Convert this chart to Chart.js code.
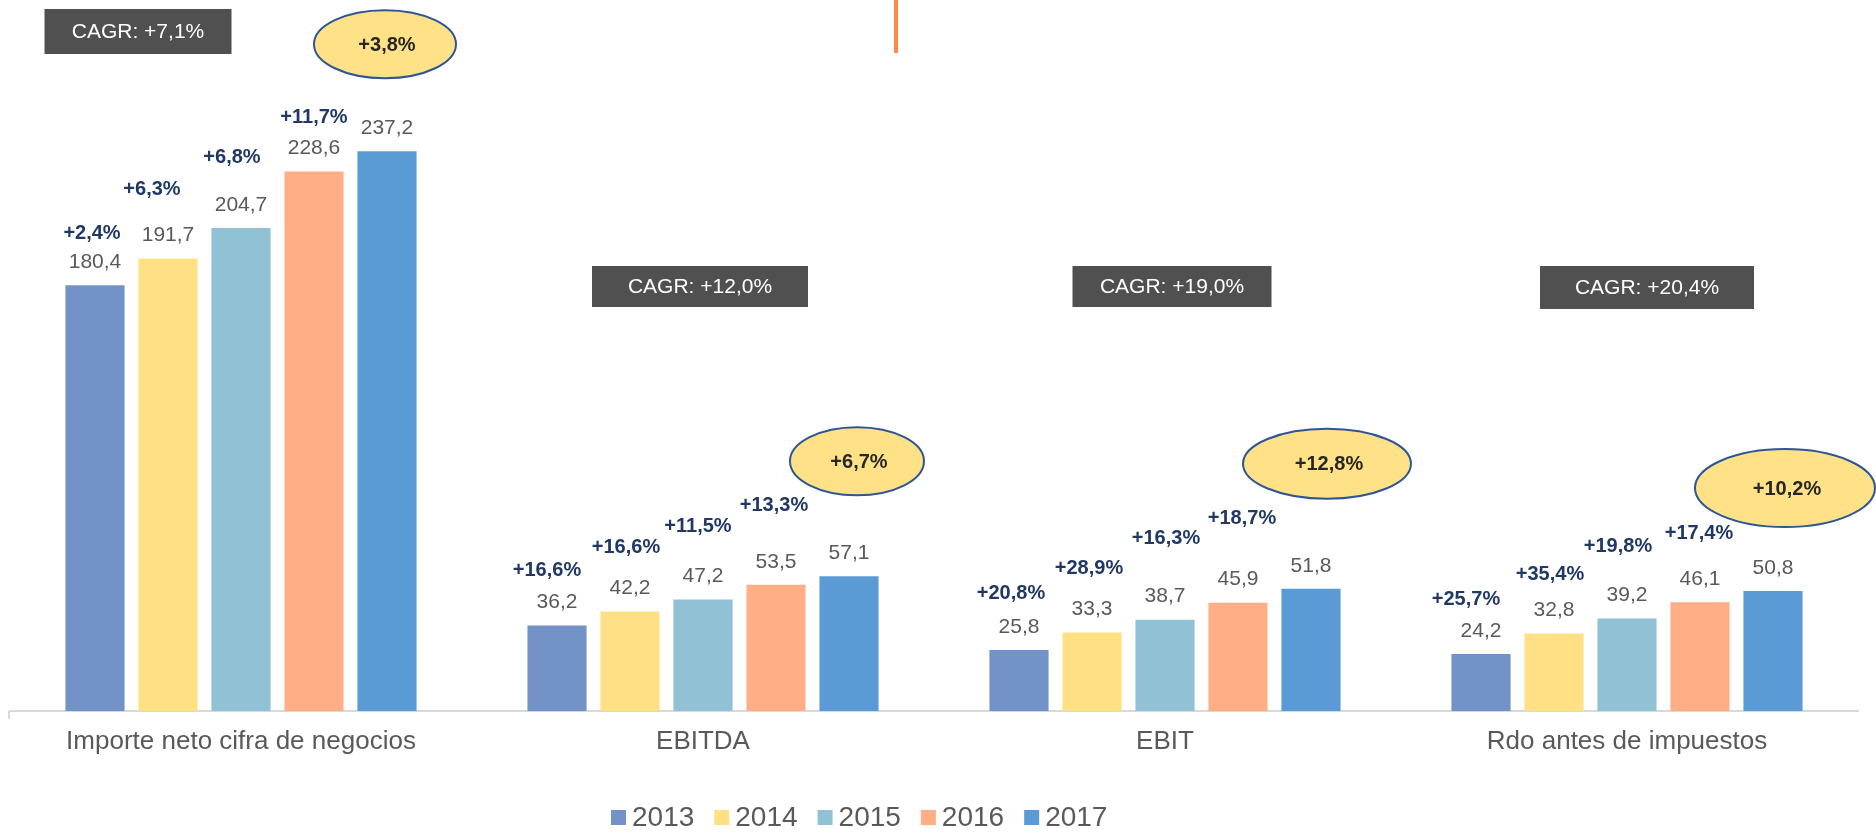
<!DOCTYPE html>
<html>
<head>
<meta charset="utf-8">
<script src="https://cdn.jsdelivr.net/npm/chart.js@4.4.0/dist/chart.umd.min.js"></script>
<style>
  html, body { margin: 0; padding: 0; background: #fff; }
</style>
</head>
<body>
<canvas id="bar-chart" width="1876" height="834"></canvas>
<script>
// values (millions)
const categories = ["Importe neto cifra de negocios", "EBITDA", "EBIT", "Rdo antes de impuestos"];
const years = ["2013", "2014", "2015", "2016", "2017"];
const v2013 = [180.4, 36.2, 25.8, 24.2];
const v2014 = [191.7, 42.2, 33.3, 32.8];
const v2015 = [204.7, 47.2, 38.7, 39.2];
const v2016 = [228.6, 53.5, 45.9, 46.1];
const v2017 = [237.2, 57.1, 51.8, 50.8];

// year on year growth (%) and CAGR (%)
const g2013 = [2.4, 16.6, 20.8, 25.7];
const g2014 = [6.3, 16.6, 28.9, 35.4];
const g2015 = [6.8, 11.5, 16.3, 19.8];
const g2016 = [11.7, 13.3, 18.7, 17.4];
const g2017 = [3.8, 6.7, 12.8, 10.2];
const cagr = [7.1, 12.0, 19.0, 20.4];

const colors = ["#7392C7", "#FFE085", "#90C1D4", "#FFAE86", "#5B9BD5"];
const font = "'Liberation Sans', Arial, sans-serif";

// placement of the growth labels (px above bar top, px sideways)
const growthLift = [[52, 55, 57, 54], [69, 64, 64, 59], [70, 73, 81, 72], [54, 79, 84, 69]];
const growthShift = [[-3, -10, -8, -15], [-16, -4, -3, -4], [-9, -5, 1, -9], [0, -2, 4, -1]];
// yellow bubbles over the 2017 bar
const bubbleLift = [107, 115, 125, 103];
const bubbleShift = [-2, 8, 16, 12];
const bubbleRx = [71, 67, 84, 90];
const bubbleRy = [34, 34, 35, 39];
// CAGR boxes
const boxShift = [-103, -3, 7, 20];
const boxTop = [9, 266, 266, 266];
const boxW = [187, 216, 199, 214];
const boxH = [45, 41, 41, 43];

const series = [v2013, v2014, v2015, v2016, v2017];
const growth = [g2013, g2014, g2015, g2016, g2017];

function fmt(v) { return v.toFixed(1).replace(".", ","); }

const annotations = {
  id: "annotations",
  afterDatasetsDraw(chart) {
    const ctx = chart.ctx;
    const xs = chart.scales.x;
    ctx.save();
    ctx.textAlign = "center";
    ctx.textBaseline = "middle";

    chart.data.datasets.forEach((ds, i) => {
      chart.getDatasetMeta(i).data.forEach((bar, j) => {
        ctx.font = "21px " + font;
        ctx.fillStyle = "#595959";
        ctx.fillText(fmt(ds.data[j]), bar.x, bar.y - 23);

        const txt = "+" + fmt(growth[i][j]) + "%";
        if (i < 4) {
          ctx.font = "bold 20px " + font;
          ctx.fillStyle = "#203864";
          ctx.fillText(txt, bar.x + growthShift[i][j], bar.y - growthLift[i][j]);
        } else {
          const cx = bar.x + bubbleShift[j], cy = bar.y - bubbleLift[j];
          ctx.beginPath();
          ctx.ellipse(cx, cy, bubbleRx[j], bubbleRy[j], 0, 0, Math.PI * 2);
          ctx.fillStyle = "#FFE287";
          ctx.fill();
          ctx.lineWidth = 2;
          ctx.strokeStyle = "#2F5597";
          ctx.stroke();
          ctx.font = "bold 20px " + font;
          ctx.fillStyle = "#262626";
          ctx.fillText(txt, cx + 2, cy + 1);
        }
      });
    });

    // CAGR boxes
    categories.forEach((c, j) => {
      const cx = xs.getPixelForValue(j) + boxShift[j];
      ctx.fillStyle = "#505050";
      ctx.fillRect(cx - boxW[j] / 2, boxTop[j], boxW[j], boxH[j]);
      ctx.font = "21px " + font;
      ctx.fillStyle = "#ffffff";
      ctx.fillText("CAGR: +" + fmt(cagr[j]) + "%", cx, boxTop[j] + boxH[j] / 2 + 1);
    });

    // small tick at the start of the axis
    const a = chart.chartArea;
    ctx.fillStyle = "#d9d9d9";
    ctx.fillRect(a.left - 2, a.bottom, 2, 8);

    // orange separator at the top
    ctx.fillStyle = "#FF8A4C";
    ctx.fillRect(894, 0, 4, 53);

    // legend
    ctx.font = "28px " + font;
    ctx.textAlign = "left";
    ctx.textBaseline = "alphabetic";
    let x = 611;
    chart.data.datasets.forEach(ds => {
      ctx.fillStyle = ds.backgroundColor;
      ctx.fillRect(x, 810, 15, 15);
      ctx.fillStyle = "#595959";
      ctx.fillText(ds.label, x + 21, 826);
      x += 21 + ctx.measureText(ds.label).width + 20;
    });
    ctx.restore();
  }
};

new Chart(document.getElementById("bar-chart"), {
  type: "bar",
  data: {
    labels: categories,
    datasets: years.map((y, i) => ({
      label: y,
      data: series[i],
      backgroundColor: colors[i],
      categoryPercentage: 0.79,
      barPercentage: 0.81
    }))
  },
  options: {
    responsive: false,
    animation: false,
    layout: { padding: { left: 10, right: 18, top: 3, bottom: 0 } },
    plugins: { legend: { display: false }, tooltip: { enabled: false } },
    scales: {
      x: {
        grid: { display: false, drawTicks: false },
        border: { display: true, color: "#d9d9d9", width: 2 },
        ticks: { color: "#595959", font: { family: font, size: 26 }, padding: 15 },
        afterFit: s => { s.height = 123; }
      },
      y: { display: false, min: 0, max: 300 }
    }
  },
  plugins: [annotations]
});
</script>
</body>
</html>
